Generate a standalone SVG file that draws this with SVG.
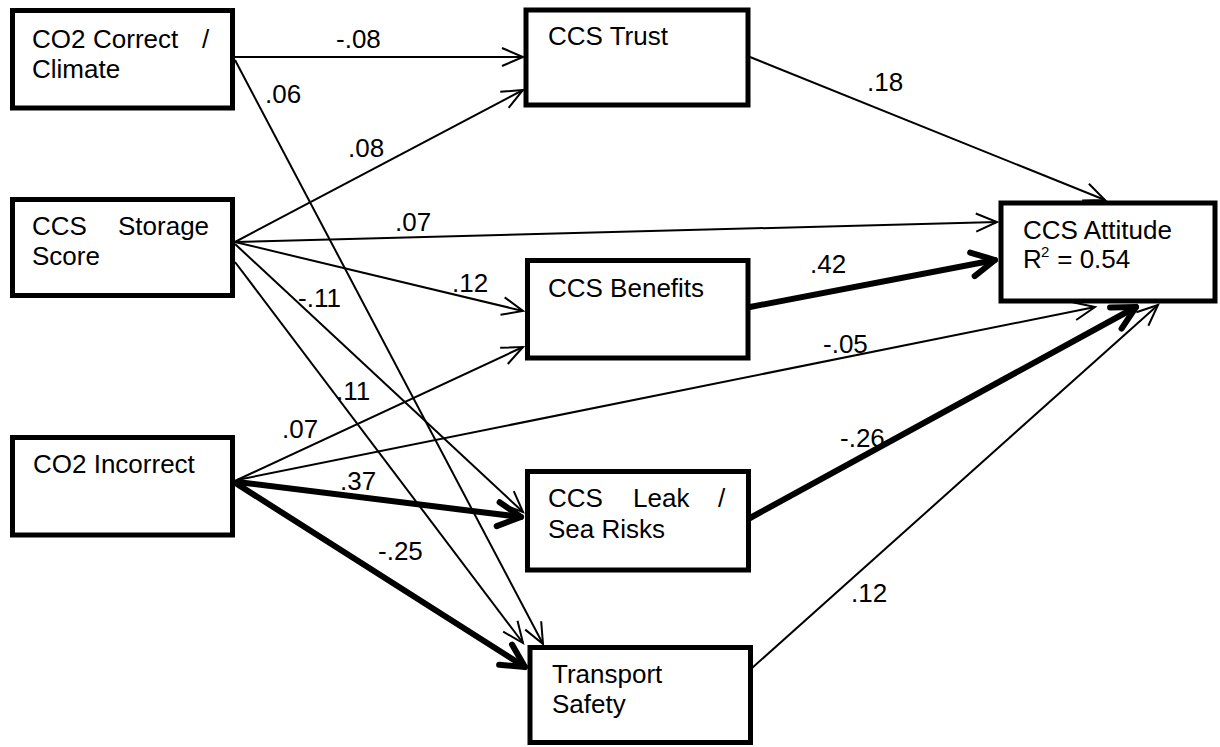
<svg xmlns="http://www.w3.org/2000/svg" width="1220" height="747" viewBox="0 0 1220 747">
<style>
.box{fill:#fff;stroke:#000;stroke-width:5}
text{font-family:"Liberation Sans",Arial,sans-serif;font-size:26px;fill:#000}
.thin{stroke:#000;stroke-width:2;fill:none;marker-end:url(#ah)}
.thick{stroke:#000;stroke-width:6;fill:none;stroke-linecap:round;marker-end:url(#ahk)}
</style>
<defs>
<marker id="ah" markerUnits="userSpaceOnUse" markerWidth="30" markerHeight="30" refX="0" refY="0" orient="auto" overflow="visible">
<path d="M-21,-9 L0,0 L-21,9" fill="none" stroke="#000" stroke-width="2"/>
</marker>
<marker id="ahk" markerUnits="userSpaceOnUse" markerWidth="30" markerHeight="30" refX="0" refY="0" orient="auto" overflow="visible">
<path d="M-23,-12 L0,0 L-23,12" fill="none" stroke="#000" stroke-width="6" stroke-linecap="round" stroke-linejoin="round"/>
</marker>
</defs>
<rect width="1220" height="747" fill="#fff"/>
<g id="connectors">
<line class="thin" x1="235" y1="57" x2="523" y2="57"/>
<line class="thin" x1="235" y1="60" x2="543" y2="644"/>
<line class="thin" x1="235" y1="242" x2="523" y2="90"/>
<line class="thin" x1="235" y1="242" x2="997" y2="222"/>
<line class="thin" x1="235" y1="242" x2="523" y2="311"/>
<line class="thin" x1="235" y1="244" x2="523" y2="512"/>
<line class="thin" x1="235" y1="262" x2="523" y2="643"/>
<line class="thin" x1="237" y1="480" x2="523" y2="347"/>
<line class="thin" x1="237" y1="480" x2="1095" y2="307"/>
<line class="thick" x1="237" y1="482" x2="521" y2="517"/>
<line class="thick" x1="237" y1="484" x2="525" y2="667"/>
<line class="thin" x1="750" y1="57" x2="1105" y2="200"/>
<line class="thick" x1="750" y1="307" x2="995" y2="260"/>
<line class="thick" x1="750" y1="518" x2="1136" y2="307"/>
<line class="thin" x1="752" y1="668" x2="1158" y2="305"/>
</g>
<g id="labels">
<text x="336" y="48">-.08</text>
<text x="265" y="103">.06</text>
<text x="348" y="157">.08</text>
<text x="395" y="231">.07</text>
<text x="452" y="292">.12</text>
<text x="298" y="307">-.11</text>
<text x="336" y="400">.11</text>
<text x="282" y="438">.07</text>
<text x="340" y="490">.37</text>
<text x="378" y="560">-.25</text>
<text x="867" y="91">.18</text>
<text x="810" y="273">.42</text>
<text x="823" y="353">-.05</text>
<text x="840" y="447">-.26</text>
<text x="851" y="602">.12</text>
</g>
<g id="co2correct">
<rect class="box" x="12.5" y="10.5" width="220" height="97.5"/>
<text y="48"><tspan x="32">CO2</tspan><tspan x="93">Correct</tspan><tspan x="202">/</tspan></text>
<text x="32" y="78">Climate</text>
</g>
<g id="storage">
<rect class="box" x="12.5" y="199.5" width="220" height="96"/>
<text y="235"><tspan x="32">CCS</tspan><tspan x="118">Storage</tspan></text>
<text x="32" y="265">Score</text>
</g>
<g id="co2incorrect">
<rect class="box" x="12.5" y="437.5" width="220" height="97.5"/>
<text x="33" y="473">CO2 Incorrect</text>
</g>
<g id="trust">
<rect class="box" x="526" y="10" width="222" height="95"/>
<text x="548" y="45">CCS Trust</text>
</g>
<g id="benefits">
<rect class="box" x="527.5" y="260.5" width="220.5" height="97.5"/>
<text x="548" y="297">CCS Benefits</text>
</g>
<g id="leak">
<rect class="box" x="527.5" y="471.5" width="221" height="98.5"/>
<text y="507"><tspan x="548">CCS</tspan><tspan x="633">Leak</tspan><tspan x="718">/</tspan></text>
<text x="548" y="538">Sea Risks</text>
</g>
<g id="transport">
<rect class="box" x="530" y="647.5" width="220.5" height="95"/>
<text x="552" y="683">Transport</text>
<text x="552" y="713">Safety</text>
</g>
<g id="attitude">
<rect class="box" x="1001" y="203" width="214" height="98"/>
<text x="1023" y="239">CCS Attitude</text>
<text y="268"><tspan x="1023">R</tspan><tspan x="1041" y="257" font-size="15">2</tspan><tspan x="1050" y="268"> = 0.54</tspan></text>
</g>
</svg>
